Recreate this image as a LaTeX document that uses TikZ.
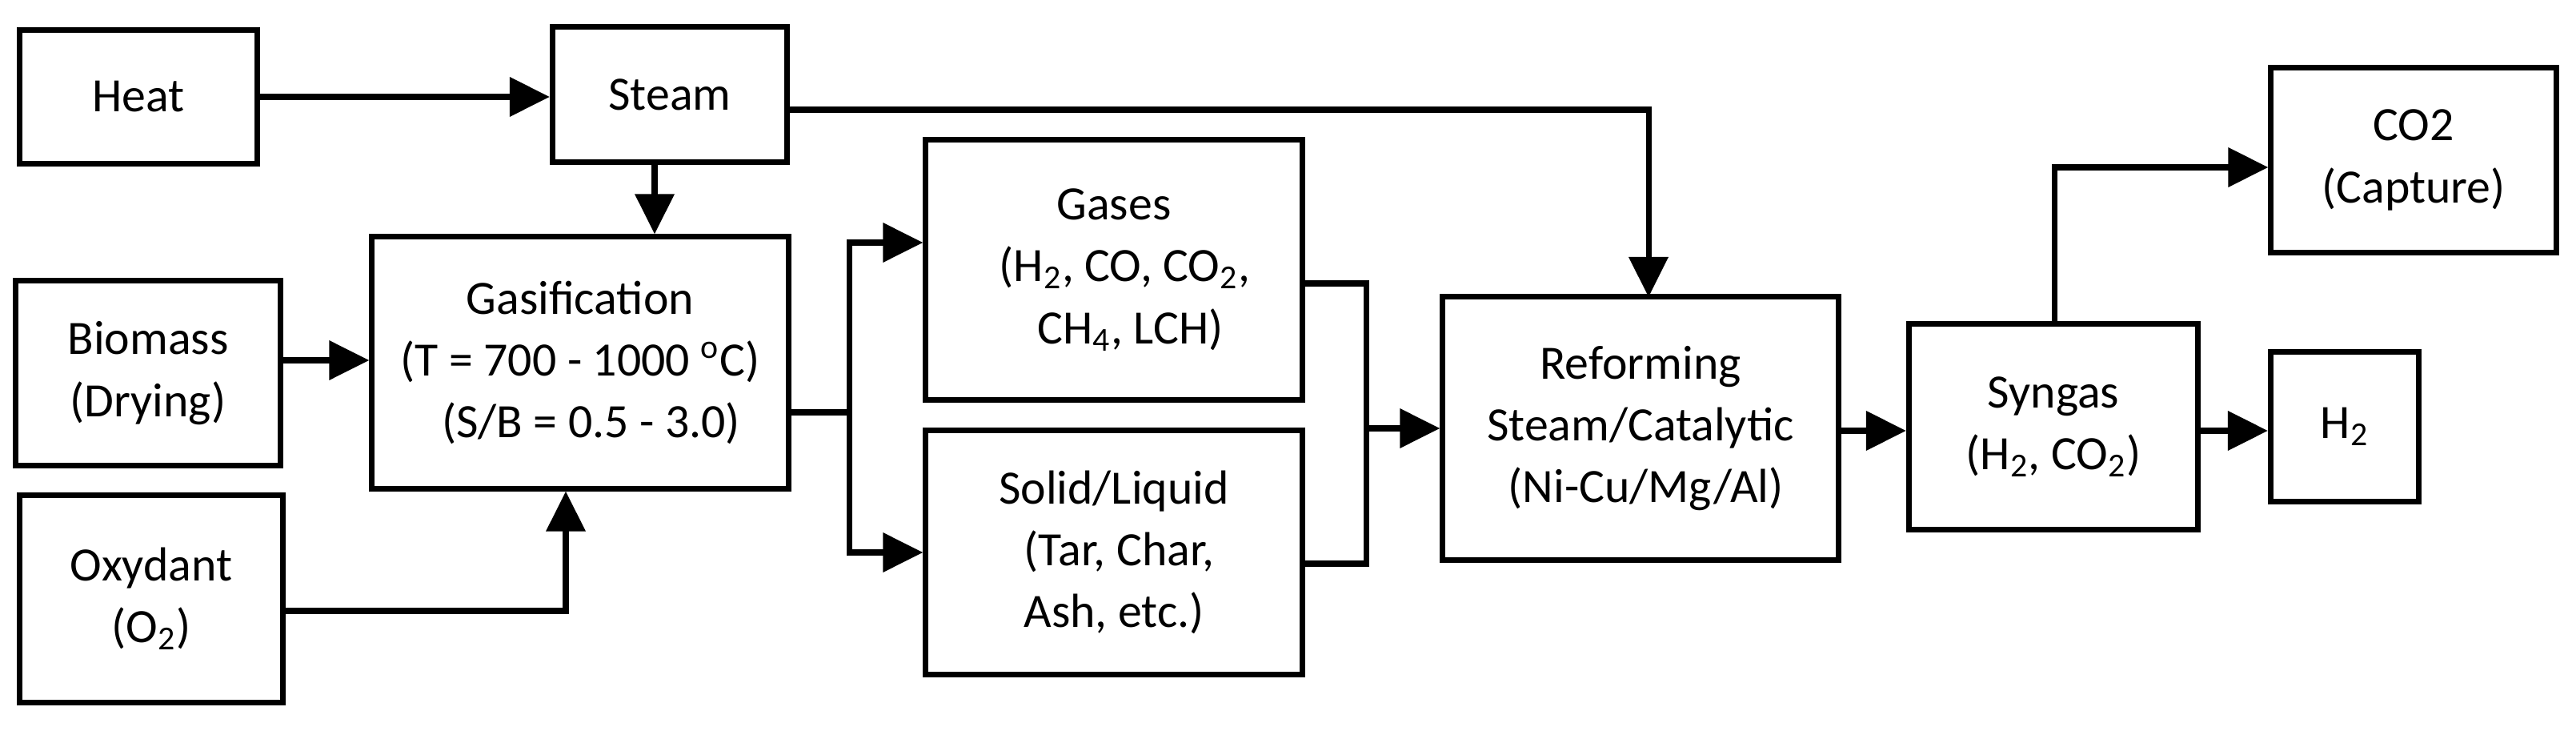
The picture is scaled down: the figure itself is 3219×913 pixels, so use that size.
\documentclass[tikz,border=0pt]{standalone}
\usepackage{fontspec}
\setmainfont{Carlito}
\usetikzlibrary{arrows.meta}
\tikzset{
  >={Triangle[width=4.8mm,length=5mm]},
  box/.style={draw=black, line width=2pt, align=center, inner sep=0pt,
              font=\fontsize{17}{22}\selectfont},
  conn/.style={line width=2pt},
}
\begin{document}
\begin{tikzpicture}[x=0.01cm,y=-0.01cm]
\useasboundingbox (0,0) rectangle (3219,913);
\node[box, minimum width=2.96cm, minimum height=1.67cm] (heat) at (173,121) {Heat};
\node[box, minimum width=2.93cm, minimum height=1.69cm] (steam) at (837,118) {Steam};
\node[box, minimum width=3.30cm, minimum height=2.31cm] (bio) at (185,466) {Biomass\\(Drying)};
\node[box, minimum width=5.20cm, minimum height=3.14cm] (gas) at (725,453) {Gasification\\(T = 700 - 1000 \textsuperscript{o}C)\\\ \ (S/B = 0.5 - 3.0)};
\node[box, minimum width=3.28cm, minimum height=2.58cm] (oxy) at (189,748) {Oxydant\\(O\textsubscript{2})};
\node[box, minimum width=4.70cm, minimum height=3.25cm] (gases) at (1392,337) {Gases\\\ \ (H\textsubscript{2}, CO, CO\textsubscript{2},\\\ \ \ CH\textsubscript{4}, LCH)};
\node[box, minimum width=4.70cm, minimum height=3.05cm] (solid) at (1392,690) {Solid/Liquid\\\ (Tar, Char,\\Ash, etc.)};
\node[box, minimum width=4.94cm, minimum height=3.28cm] (ref) at (2050,535) {Reforming\\Steam/Catalytic\\\ (Ni-Cu/Mg/Al)};
\node[box, minimum width=3.61cm, minimum height=2.57cm] (syn) at (2566,533) {Syngas\\(H\textsubscript{2}, CO\textsubscript{2})};
\node[box, minimum width=3.56cm, minimum height=2.31cm] (co2) at (3016,200) {CO2\\(Capture)};
\node[box, minimum width=1.85cm, minimum height=1.87cm] (h2) at (2930,533) {H\textsubscript{2}};

\coordinate (j1) at (1061,515);
\coordinate (j2) at (1707,535);

\draw[conn,->] (heat.east |- 0,121) -- (steam.west |- 0,121);
\draw[conn,->] (steam.east |- 0,137) -| (2060,371);
\draw[conn,->] (steam.south -| 818,0) -- (gas.north -| 818,0);
\draw[conn,->] (bio.east |- 0,450) -- (gas.west |- 0,450);
\draw[conn,->] (oxy.east |- 0,763) -| (gas.south -| 707,0);
\draw[conn] (gas.east |- j1) -- (j1);
\draw[conn,->] (j1) |- (gases.west |- 0,303);
\draw[conn,->] (j1) |- (solid.west |- 0,690);
\draw[conn] (gases.east |- 0,354) -| (j2);
\draw[conn] (solid.east |- 0,704) -| (j2);
\draw[conn,->] (j2) -- (ref.west |- j2);
\draw[conn,->] (ref.east |- 0,538) -- (syn.west |- 0,538);
\draw[conn,->] (syn.east |- 0,538) -- (h2.west |- 0,538);
\draw[conn,->] (syn.north -| 2567,0) |- (co2.west |- 0,209);
\end{tikzpicture}
\end{document}
